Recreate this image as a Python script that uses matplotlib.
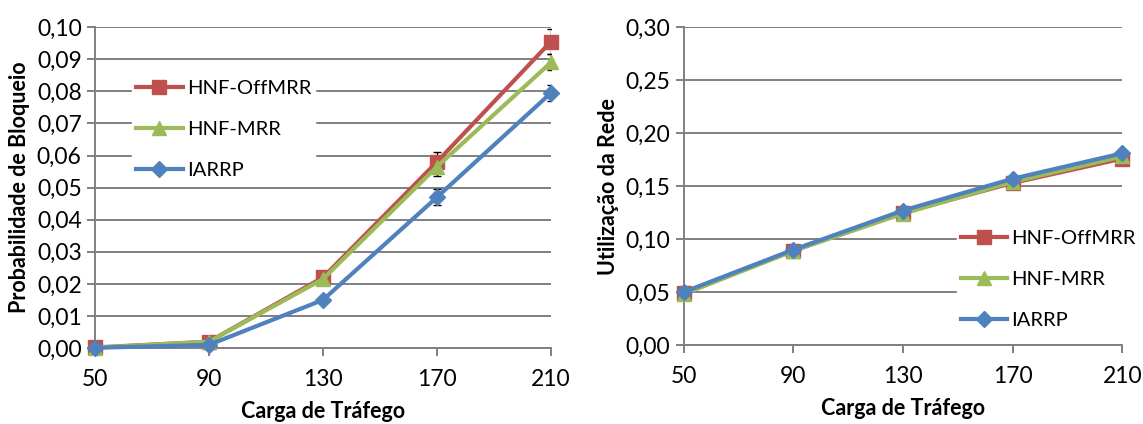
import matplotlib.pyplot as plt
from matplotlib.ticker import FuncFormatter

plt.rcParams['font.family'] = ['Lato', 'DejaVu Sans']

# Dados
carga = [50, 90, 130, 170, 210]
bloq_offmrr = [0.0002, 0.0020, 0.0220, 0.0580, 0.0955]
bloq_mrr = [0.0001, 0.0020, 0.0215, 0.0565, 0.0890]
bloq_iarrp = [0.0001, 0.0010, 0.0150, 0.0470, 0.0795]
err_offmrr = [0.0, 0.0003, 0.0008, 0.0030, 0.0040]
err_mrr = [0.0, 0.0003, 0.0008, 0.0030, 0.0025]
err_iarrp = [0.0, 0.0003, 0.0008, 0.0025, 0.0025]

util_offmrr = [0.049, 0.089, 0.125, 0.153, 0.176]
util_mrr = [0.048, 0.089, 0.124, 0.154, 0.178]
util_iarrp = [0.050, 0.090, 0.127, 0.157, 0.181]

nomes = ['HNF-OffMRR', 'HNF-MRR', 'IARRP']
cores = ['#C0504D', '#9BBB59', '#4F81BD']
marcadores = ['s', '^', 'D']
tamanhos = [10, 10, 8]

fmt = FuncFormatter(lambda v, p: f'{v:.2f}'.replace('.', ','))

fig = plt.figure(figsize=(11.43, 4.24), dpi=100)
ax1 = fig.add_axes([0.083, 0.179, 0.399, 0.757])
ax2 = fig.add_axes([0.598, 0.186, 0.384, 0.750])


def estilo(ax, ymax, passo):
    ax.set_xlim(50, 210)
    ax.set_ylim(0, ymax)
    ax.set_xticks(carga)
    ax.set_yticks([i * passo for i in range(round(ymax / passo) + 1)])
    ax.yaxis.set_major_formatter(fmt)
    ax.grid(axis='y', color='#808080', linewidth=1.4)
    ax.set_axisbelow(True)
    for s in ['top', 'right']:
        ax.spines[s].set_visible(False)
    for s in ['left', 'bottom']:
        ax.spines[s].set_color('#808080')
        ax.spines[s].set_linewidth(1.4)
    ax.tick_params(axis='both', labelsize=16.5, color='#808080', length=6, width=1.4)
    ax.tick_params(axis='x', pad=9)
    ax.set_xlabel('Carga de Tráfego', fontsize=15.5, fontweight='bold', labelpad=8)
    for lab in ax.get_xticklabels() + ax.get_yticklabels():
        lab.set_clip_on(False)


# Gráfico da esquerda: probabilidade de bloqueio
series_b = [bloq_offmrr, bloq_mrr, bloq_iarrp]
erros_b = [err_offmrr, err_mrr, err_iarrp]
for ys, es, nome, c, m, ms in zip(series_b, erros_b, nomes, cores, marcadores, tamanhos):
    ax1.errorbar(carga, ys, yerr=es, fmt='none', ecolor='black', elinewidth=1,
                 capsize=3, zorder=2)
    ax1.plot(carga, ys, color=c, marker=m, markersize=ms, linewidth=3,
             label=nome, zorder=3, clip_on=False)
estilo(ax1, 0.10, 0.01)
ax1.set_ylabel('Probabilidade de Bloqueio', fontsize=15.5, fontweight='bold', labelpad=5)
ax1.legend(loc='upper left', bbox_to_anchor=(0.06, 0.88), fontsize=14.5,
           frameon=True, framealpha=1, edgecolor='white', fancybox=False,
           labelspacing=1.2, handlelength=2.3, handletextpad=0.2,
           borderpad=0.2)

# Gráfico da direita: utilização da rede
series_u = [util_offmrr, util_mrr, util_iarrp]
for ys, nome, c, m, ms in zip(series_u, nomes, cores, marcadores, tamanhos):
    ax2.plot(carga, ys, color=c, marker=m, markersize=ms, linewidth=3,
             label=nome, zorder=3, clip_on=False)
estilo(ax2, 0.30, 0.05)
ax2.set_ylabel('Utilização da Rede', fontsize=15.5, fontweight='bold', labelpad=5)
ax2.legend(loc='lower left', bbox_to_anchor=(0.60, 0.005), fontsize=14.5,
           frameon=True, framealpha=1, edgecolor='white', fancybox=False,
           labelspacing=1.2, handlelength=2.3, handletextpad=0.2,
           borderpad=0.2)

fig.savefig('out.png', dpi=100)
